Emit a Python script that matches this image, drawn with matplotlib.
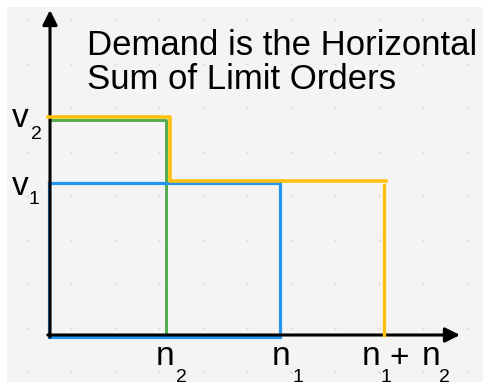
import matplotlib.pyplot as plt
from matplotlib.patches import Rectangle

# limit orders (quantity, price), in grid units
n2, v2 = 2.64, 4.89          # green order
n1, v1 = 5.23, 3.45          # blue order
# horizontal sum (yellow), as drawn
demand_q = [-0.05, 2.73, 2.73, 7.64]
demand_p = [4.95, 4.95, 3.50, 3.50]
demand_end_q = 7.60
demand_end_p = 3.41

grid_x = [-0.52 + k for k in range(11)]
grid_y = [-0.84 + k for k in range(9)]

# pixel helpers for placing text (origin of the drawing at px 50, 335; 44 px per unit)
def px(x, y):
    return (x - 50) / 44, (335 - y) / 44

fig = plt.figure(figsize=(4.83, 3.86), dpi=100)
fig.patch.set_facecolor('white')
ax = fig.add_axes([0, 0, 1, 1])
ax.set_xlim(px(0, 0)[0], px(483, 0)[0])
ax.set_ylim(px(0, 386)[1], px(0, 0)[1])
ax.axis('off')

# canvas background and dotted grid
x0, y0 = px(7, 382)
x1, y1 = px(483, 7)
ax.add_patch(Rectangle((x0, y0), x1 - x0, y1 - y0, facecolor='#f4f4f4', edgecolor='none', zorder=0))
gx = [x for x in grid_x for _ in grid_y]
gy = [y for _ in grid_x for y in grid_y]
ax.scatter(gx, gy, s=3, color='#dcdcdc', linewidths=0, zorder=1)

# orders
ax.plot([0, n2, n2], [v2, v2, 0], color='#52ab4c', lw=2.1, zorder=2)
ax.plot([-0.02, n1, n1, n1, -0.02, -0.02], [v1, v1, -0.04, -0.04, -0.04, v1],
        color='#2196f3', lw=2.3, zorder=3, solid_joinstyle='miter')

# axes with arrow heads
ax.annotate('', xy=(0, px(0, 10)[1]), xytext=(0, -0.05),
            arrowprops=dict(arrowstyle='-|>', lw=2.2, color='black', mutation_scale=22,
                            shrinkA=0, shrinkB=0), zorder=4)
ax.annotate('', xy=(px(460, 0)[0], 0), xytext=(-0.05, 0),
            arrowprops=dict(arrowstyle='-|>', lw=2.2, color='black', mutation_scale=22,
                            shrinkA=0, shrinkB=0), zorder=4)

# horizontal sum
ax.plot(demand_q, demand_p, color='#ffc10e', lw=2.6, zorder=5, solid_joinstyle='round')
ax.plot([demand_end_q, demand_end_q], [demand_end_p, 0], color='#ffc10e', lw=2.4, zorder=5)

font = 'Liberation Sans'
ax.text(*px(87, 55), 'Demand is the Horizontal', fontsize=25, family=font, va='baseline', zorder=6)
ax.text(*px(87, 89), 'Sum of Limit Orders', fontsize=25, family=font, va='baseline', zorder=6)

big, small = 24, 14
labels = [
    ('v', (12, 127), '2', (31, 139)),
    ('v', (12, 195), '1', (29, 204)),
    ('n', (156, 365), '2', (176, 382)),
    ('n', (272, 365), '1', (293, 382)),
    ('n', (362, 365), '1', (381, 382)),
    ('n', (422, 365), '2', (439, 382)),
]
for main, mp, sub, sp in labels:
    ax.text(*px(*mp), main, fontsize=big, family=font, va='baseline', zorder=6)
    ax.text(*px(*sp), sub, fontsize=small, family=font, va='baseline', zorder=6)
ax.text(*px(389, 367), '+', fontsize=big, family=font, va='baseline', zorder=6)

fig.savefig('out.png', dpi=100)
